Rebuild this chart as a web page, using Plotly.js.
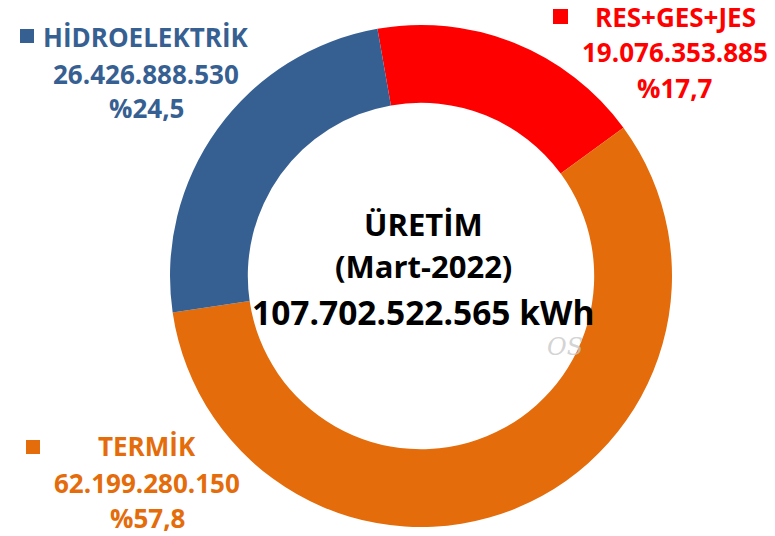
<!DOCTYPE html>
<html>
<head>
<meta charset="utf-8">
<script src="https://cdn.plot.ly/plotly-3.0.1.min.js"></script>
<style>html,body{margin:0;padding:0;background:#fff;}#chart{width:775px;height:536px;}</style>
</head>
<body>
<div id="chart"></div>
<script>
// Data
var labels = ["RES+GES+JES", "TERMİK", "HİDROELEKTRİK"];
var values = [19076353885, 62199280150, 26426888530];
var valueTexts = ["19.076.353.885", "62.199.280.150", "26.426.888.530"];
var percentTexts = ["%17,7", "%57,8", "%24,5"];
var colors = ["#FF0000", "#E46C0A", "#376092"];
var centerLines = ["ÜRETİM", "(Mart-2022)", "107.702.522.565 kWh"];

var W = 775, H = 536;
function px(x){ return x / W; }
function py(y){ return 1 - y / H; }

var cx = 421, cy = 276, R = 251;

var trace = {
  type: "pie",
  labels: labels,
  values: values,
  sort: false,
  direction: "clockwise",
  rotation: -10,
  hole: 0.69,
  textinfo: "none",
  hoverinfo: "label+value+percent",
  marker: { colors: colors, line: { width: 0 } },
  domain: { x: [px(cx - R), px(cx + R)], y: [py(cy + R), py(cy - R)] },
  showlegend: false
};

// label block positions (style/layout only)
var blocks = [
  { idx: 0, x: 675, ys: [17, 52, 88], sq: [553, 9, 15] },
  { idx: 1, x: 147, ys: [446, 483, 518], sq: [26, 440, 14] },
  { idx: 2, x: 146, ys: [37, 74, 108], sq: [20, 29, 14] }
];

var FONT = "Open Sans, Lato, sans-serif";
var annotations = [];
var shapes = [];
blocks.forEach(function(b){
  var texts = [labels[b.idx], valueTexts[b.idx], percentTexts[b.idx]];
  texts.forEach(function(t, i){
    annotations.push({
      xref: "paper", yref: "paper", x: px(b.x), y: py(b.ys[i]),
      xanchor: "center", yanchor: "middle", showarrow: false,
      text: "<b>" + t + "</b>",
      font: { family: FONT, size: 26, color: colors[b.idx] }
    });
  });
  shapes.push({
    type: "rect", xref: "paper", yref: "paper",
    x0: px(b.sq[0]), x1: px(b.sq[0] + b.sq[2]),
    y0: py(b.sq[1] + b.sq[2]), y1: py(b.sq[1]),
    fillcolor: colors[b.idx], line: { width: 0 }
  });
});

var centerYs = [224, 266, 312];
var centerSizes = [31, 31, 33.5];
centerLines.forEach(function(t, i){
  annotations.push({
    xref: "paper", yref: "paper", x: px(423), y: py(centerYs[i]),
    xanchor: "center", yanchor: "middle", showarrow: false,
    text: "<b>" + t + "</b>",
    font: { family: FONT, size: centerSizes[i], color: "#000000" }
  });
});

// faint watermark
annotations.push({
  xref: "paper", yref: "paper", x: px(565), y: py(347),
  xanchor: "center", yanchor: "middle", showarrow: false,
  text: "<i>OS</i>",
  font: { family: "DejaVu Serif, serif", size: 24, color: "rgba(200,200,200,0.8)" }
});

var layout = {
  width: W, height: H,
  margin: { l: 0, r: 0, t: 0, b: 0 },
  paper_bgcolor: "#ffffff",
  plot_bgcolor: "#ffffff",
  showlegend: false,
  annotations: annotations,
  shapes: shapes
};

Plotly.newPlot("chart", [trace], layout, { displayModeBar: false, staticPlot: true });
</script>
</body>
</html>
